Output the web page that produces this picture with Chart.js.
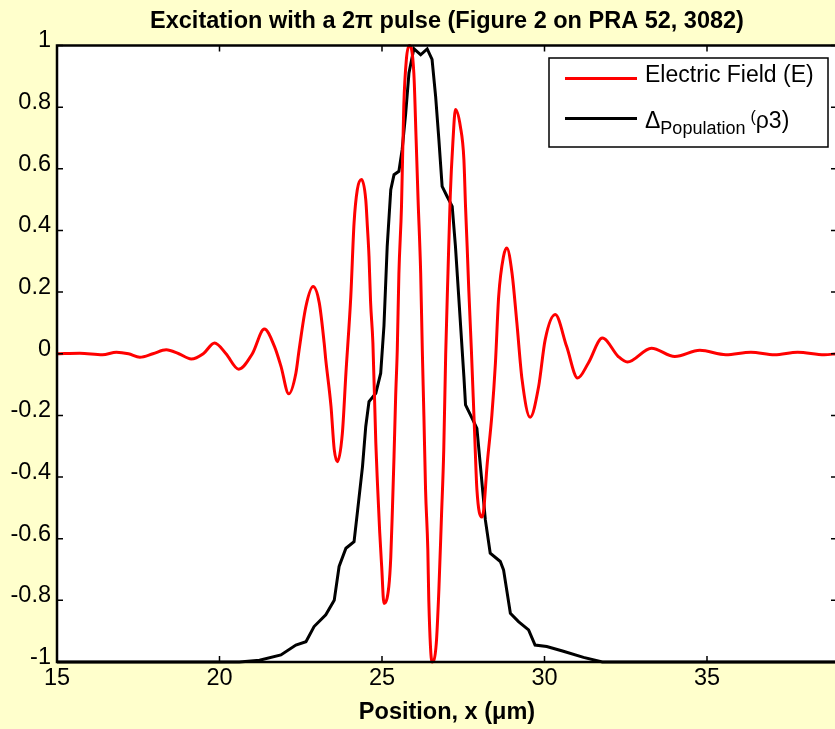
<!DOCTYPE html>
<html>
<head>
<meta charset="utf-8">
<title>Excitation with a 2π pulse</title>
<script src="https://cdn.jsdelivr.net/npm/chart.js@4"></script>
<style>
  html, body { margin: 0; padding: 0; background: #ffffcc; overflow: hidden; }
  canvas { display: block; }
</style>
</head>
<body>
<canvas id="pulseChart" width="838" height="729"></canvas>
<script>
// electric field E(x) along the sample
const fieldX = [15, 15.7, 16.4, 16.83, 17.2, 17.55, 17.95, 18.36, 18.75, 19.13, 19.5, 19.85, 20.2, 20.59,
  21.01, 21.38, 21.69, 21.89, 22.13, 22.35, 22.45, 22.66, 22.88, 23.07, 23.22, 23.27, 23.43, 23.53,
  23.63, 23.78, 23.89, 24.04, 24.14, 24.24, 24.37, 24.5, 24.55, 24.6, 24.65, 24.72, 24.81, 24.86,
  24.93, 24.99, 25.06, 25.21, 25.27, 25.32, 25.37, 25.42, 25.47, 25.52, 25.6, 25.67, 25.75, 25.84,
  25.98, 26.05, 26.11, 26.19, 26.24, 26.29, 26.34, 26.41, 26.44, 26.54, 26.67, 26.75, 26.83, 26.9,
  26.96, 27.03, 27.1, 27.18, 27.26, 27.41, 27.52, 27.57, 27.62, 27.67, 27.75, 27.85, 27.92, 28.07,
  28.13, 28.23, 28.38, 28.49, 28.59, 28.74, 28.84, 29.0, 29.15, 29.31, 29.56, 29.82, 30.02, 30.33,
  30.68, 31.02, 31.35, 31.78, 32.27, 32.55, 33.29, 34.01, 34.78, 35.58, 36.35, 37.08, 37.79, 38.61, 39];
const fieldE = [0, 0.002, -0.003, 0.005, 0, -0.011, 0, 0.013, 0, -0.017, 0, 0.035, 0, -0.05,
  0, 0.08, 0.024, -0.04, -0.13, -0.063, 0.013, 0.154, 0.218, 0.165, 0.035, -0.02, -0.17, -0.31,
  -0.35, -0.258, -0.063, 0.186, 0.424, 0.532, 0.565, 0.5, 0.413, 0.316, 0.165, 0.035, -0.29, -0.42,
  -0.58, -0.69, -0.81, -0.755, -0.66, -0.506, -0.333, -0.139, 0.013, 0.26, 0.478, 0.803, 0.955, 1.0,
  0.91, 0.695, 0.5, 0.262, 0.013, -0.204, -0.44, -0.636, -0.8, -1.0, -0.94, -0.766, -0.528, -0.312,
  0, 0.262, 0.511, 0.684, 0.792, 0.738, 0.63, 0.478, 0.348, 0.208, 0.013, -0.258, -0.44, -0.53,
  -0.506, -0.366, -0.2, -0.03, 0.186, 0.316, 0.343, 0.262, 0.1, -0.084, -0.206, -0.106, 0.045, 0.127,
  0.024, -0.079, -0.03, 0.051, -0.009, -0.027, 0.018, -0.009, 0.011, -0.003, 0.005, -0.003, 0.005, -0.003, 0];

// population difference left behind by the pulse
const popX = [15, 20.61, 21.23, 21.89, 22.35, 22.66, 22.91, 23.27, 23.53, 23.68, 23.89, 24.14, 24.24,
  24.4, 24.5, 24.6, 24.81, 24.96, 25.06, 25.16, 25.27, 25.37, 25.52, 25.62, 25.73, 25.83, 25.98,
  26.19, 26.39, 26.54, 26.65, 26.75, 26.85, 27.0, 27.16, 27.26, 27.36, 27.52, 27.57, 27.77, 27.92,
  28.03, 28.18, 28.33, 28.64, 28.74, 28.95, 29.2, 29.51, 29.71, 30.07, 30.58, 31.2, 31.78, 39];
const popValue = [-1, -1, -0.994, -0.977, -0.945, -0.934, -0.885, -0.847, -0.8, -0.69, -0.631, -0.61, -0.517,
  -0.366, -0.236, -0.155, -0.128, -0.063, 0.09, 0.348, 0.532, 0.581, 0.592, 0.662, 0.781, 0.911, 0.99,
  0.97, 0.989, 0.955, 0.835, 0.695, 0.543, 0.511, 0.478, 0.348, 0.186, -0.074, -0.166, -0.209, -0.242,
  -0.366, -0.539, -0.647, -0.674, -0.701, -0.842, -0.869, -0.896, -0.945, -0.95, -0.965, -0.985, -1, -1];

const xTicks = [15, 20, 25, 30, 35];
const yTicks = [-1, -0.8, -0.6, -0.4, -0.2, 0, 0.2, 0.4, 0.6, 0.8, 1];

const FONT = "'Liberation Sans', Arial, sans-serif";
Chart.defaults.font.family = FONT;
Chart.defaults.color = '#000';

const toPoints = (xs, ys) => xs.map((x, i) => ({ x: x, y: ys[i] }));

// white plot area, boxed frame and inward ticks on all four sides
const axesBox = {
  id: 'axesBox',
  beforeDraw(chart) {
    const { ctx, chartArea: a } = chart;
    ctx.save();
    ctx.fillStyle = '#fff';
    ctx.fillRect(a.left, a.top, a.right - a.left, a.bottom - a.top);
    ctx.restore();
  },
  afterDatasetsDraw(chart) {
    const { ctx, chartArea: a, scales } = chart;
    const len = 6;
    ctx.save();
    ctx.strokeStyle = '#000';
    ctx.lineWidth = 1.5;
    ctx.beginPath();
    xTicks.forEach(v => {
      const px = scales.x.getPixelForValue(v);
      ctx.moveTo(px, a.bottom); ctx.lineTo(px, a.bottom - len);
      ctx.moveTo(px, a.top); ctx.lineTo(px, a.top + len);
    });
    yTicks.forEach(v => {
      const py = scales.y.getPixelForValue(v);
      ctx.moveTo(a.left, py); ctx.lineTo(a.left + len, py);
      ctx.moveTo(a.right, py); ctx.lineTo(a.right - len, py);
    });
    ctx.stroke();
    ctx.lineWidth = 2.5;
    ctx.strokeRect(a.left, a.top, a.right - a.left, a.bottom - a.top);
    ctx.restore();
  }
};

// boxed legend in the upper right corner, second label uses sub/superscripts
const boxLegend = {
  id: 'boxLegend',
  afterDraw(chart) {
    const { ctx } = chart;
    const ds = chart.data.datasets;
    ctx.save();
    ctx.fillStyle = '#fff';
    ctx.fillRect(549, 58, 279, 89);
    ctx.strokeStyle = '#000';
    ctx.lineWidth = 1.5;
    ctx.strokeRect(549, 58, 279, 89);

    ctx.lineWidth = 3;
    ctx.strokeStyle = ds[0].borderColor;
    ctx.beginPath(); ctx.moveTo(565, 78.5); ctx.lineTo(637, 78.5); ctx.stroke();
    ctx.strokeStyle = ds[1].borderColor;
    ctx.beginPath(); ctx.moveTo(565, 118.5); ctx.lineTo(637, 118.5); ctx.stroke();

    ctx.fillStyle = '#000';
    ctx.textBaseline = 'alphabetic';
    ctx.textAlign = 'left';
    ctx.font = '23px ' + FONT;
    ctx.fillText(ds[0].label, 645, 82);

    let x = 645;
    const parts = [
      { t: 'Δ', size: 23, dy: 0 },
      { t: 'Population', size: 18, dy: 6 },
      { t: ' ', size: 18, dy: 0 },
      { t: '(', size: 16, dy: -6 },
      { t: 'ρ3)', size: 23, dy: 0 }
    ];
    parts.forEach(p => {
      ctx.font = p.size + 'px ' + FONT;
      ctx.fillText(p.t, x, 127.5 + p.dy);
      x += ctx.measureText(p.t).width;
    });
    ctx.restore();
  }
};

new Chart(document.getElementById('pulseChart'), {
  type: 'line',
  data: {
    datasets: [{
      label: 'Electric Field (E)',
      data: toPoints(fieldX, fieldE),
      borderColor: '#ff0000',
      borderWidth: 3,
      pointRadius: 0,
      cubicInterpolationMode: 'monotone',
      clip: 4
    }, {
      label: 'ΔPopulation (ρ3)',
      data: toPoints(popX, popValue),
      borderColor: '#000000',
      borderWidth: 3,
      pointRadius: 0,
      tension: 0,
      clip: 4
    }]
  },
  options: {
    responsive: false,
    animation: false,
    layout: { padding: { left: 0, right: 1, top: 0, bottom: 0 } },
    plugins: {
      legend: { display: false },
      tooltip: { enabled: false },
      title: {
        display: true,
        fullSize: false,
        text: 'Excitation with a 2π pulse (Figure 2 on PRA 52, 3082)',
        color: '#000',
        font: { size: 23.5, weight: 'bold' },
        padding: { top: 7, bottom: 10.3 }
      }
    },
    scales: {
      x: {
        type: 'linear',
        min: 15,
        max: 39,
        grid: { display: false, drawTicks: false },
        border: { display: false },
        afterBuildTicks: s => { s.ticks = xTicks.map(v => ({ value: v })); },
        afterFit: s => { s.height = 67; },
        ticks: {
          padding: 2,
          font: { size: 23.5 },
          callback: v => String(v)
        },
        title: {
          display: true,
          text: 'Position, x (μm)',
          font: { size: 23.5, weight: 'bold' },
          padding: { top: 0, bottom: 2 }
        }
      },
      y: {
        type: 'linear',
        min: -1,
        max: 1,
        grid: { display: false, drawTicks: false },
        border: { display: false },
        afterBuildTicks: s => { s.ticks = yTicks.map(v => ({ value: v })); },
        afterFit: s => { s.width = 57; },
        ticks: {
          padding: 6,
          font: { size: 23.5, lineHeight: '9px' },
          // empty second line lifts each label a little above its tick
          callback: v => [String(Math.round(v * 10) / 10), '']
        }
      }
    }
  },
  plugins: [axesBox, boxLegend]
});
</script>
</body>
</html>
